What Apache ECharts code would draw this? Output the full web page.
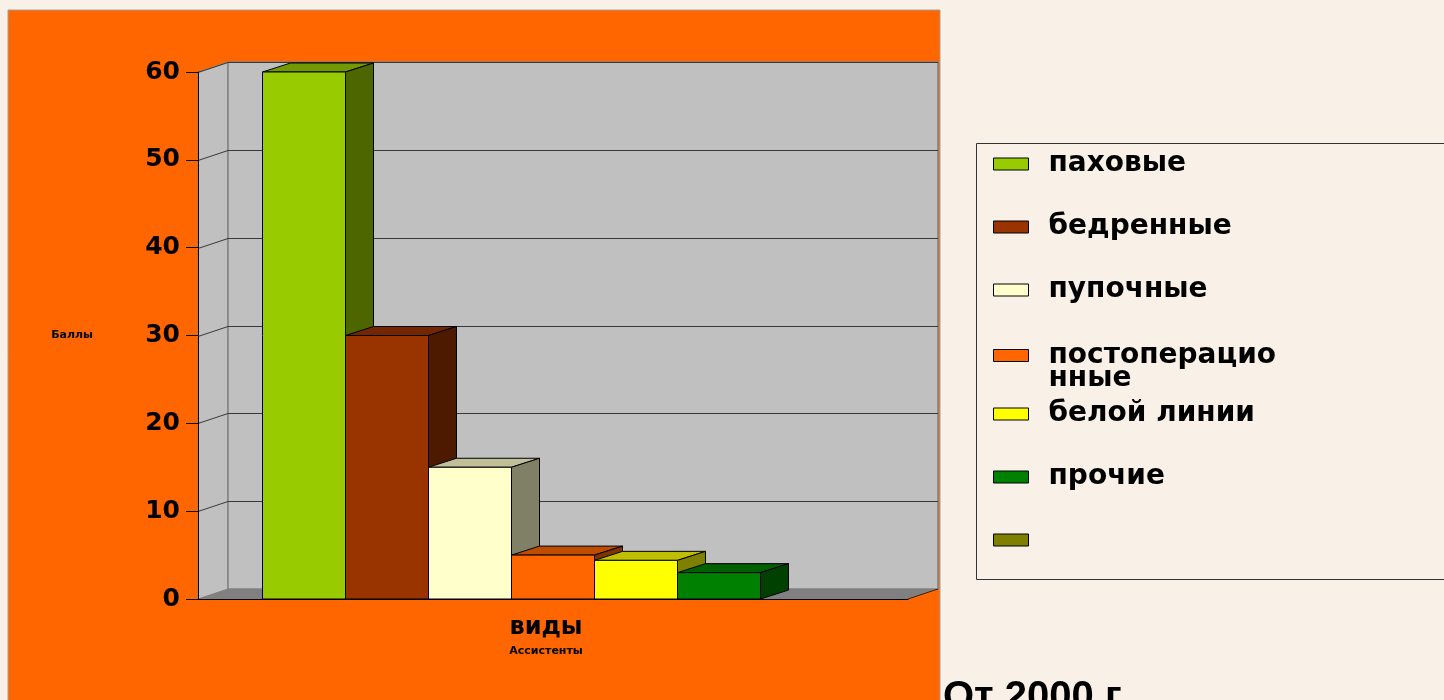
<!DOCTYPE html>
<html>
<head>
<meta charset="utf-8">
<script src="https://cdn.jsdelivr.net/npm/echarts@6/dist/echarts.min.js"></script>
<style>
html,body{margin:0;padding:0;background:#f9f1e7;}
#c{width:1444px;height:700px;}
</style>
</head>
<body>
<div id="c"></div>
<script>
// ---- data ----
const categories = ['виды'];
const seriesNames = ['паховые', 'бедренные', 'пупочные', 'постоперационные', 'белой линии', 'прочие', ' '];
const seriesValues = [60, 30, 15, 5, 4.4, 3, null];
const yTickValues = [0, 10, 20, 30, 40, 50, 60];
const yAxisTitle = 'Баллы';
const xAxisTitle = 'Ассистенты';
const footnote = 'От 2000 г.';

// ---- styles ----
const frontColors = ['#99cc00', '#993300', '#ffffcc', '#ff6600', '#ffff00', '#008000', '#808000'];
function shade(hex, f) {
  const n = parseInt(hex.slice(1), 16);
  const r = Math.round(((n >> 16) & 255) * f), g = Math.round(((n >> 8) & 255) * f), b = Math.round((n & 255) * f);
  return 'rgb(' + r + ',' + g + ',' + b + ')';
}
const topColors = frontColors.map(c => shade(c, 0.75));
const sideColors = frontColors.map(c => shade(c, 0.5));

const FONT = 'DejaVu Sans';
const yMin = yTickValues[0], yMax = yTickValues[yTickValues.length - 1];
const yStep = yTickValues[1] - yTickValues[0];

function renderWalls(params, api) {
  const c0 = api.coord([0, yMin]);
  const c1 = api.coord([0, yMax]);
  const band = api.size([1, 0])[0];
  const L = c0[0] - band / 2, R = c0[0] + band / 2;
  const y0 = c0[1], y1 = c1[1];
  const dx = 30, dy = -10;
  const children = [];
  children.push({type: 'polygon', shape: {points: [[L, y1], [L + dx, y1 + dy], [L + dx, y0 + dy], [L, y0]]},
    style: {fill: '#c0c0c0', stroke: '#808080', lineWidth: 1}});
  children.push({type: 'rect', shape: {x: L + dx, y: y1 + dy, width: R - L, height: y0 - y1},
    style: {fill: '#c0c0c0', stroke: '#808080', lineWidth: 1.5}});
  children.push({type: 'polygon', shape: {points: [[L, y0], [R, y0], [R + dx, y0 + dy], [L + dx, y0 + dy]]},
    style: {fill: '#808080'}});
  yTickValues.forEach(v => {
    if (v === yMin) return;
    const y = Math.round(api.coord([0, v])[1]) + 0.5;
    children.push({type: 'polyline', shape: {points: [[L, y], [L + dx, y + dy], [R + dx, y + dy]]},
      style: {stroke: '#383838', lineWidth: 1, fill: 'none'}});
  });
  children.push({type: 'line', shape: {x1: R, y1: y0, x2: R + dx, y2: y0 + dy}, style: {stroke: '#402000', lineWidth: 1}});
  return {type: 'group', children};
}

function makeBar(idx) {
  return function (params, api) {
    const v = api.value(1);
    if (v == null || isNaN(v)) return null;
    const pTop = api.coord([api.value(0), v]);
    const pBase = api.coord([api.value(0), 0]);
    const band = api.size([1, 0])[0];
    const groupW = band * 581 / 710;
    const bw = groupW / seriesNames.length;
    const x = pTop[0] - groupW / 2 + idx * bw;
    const yT = pTop[1], yB = pBase[1];
    const dx = 28, dy = -9;
    return {type: 'group', children: [
      {type: 'polygon', shape: {points: [[x, yT], [x + dx, yT + dy], [x + bw + dx, yT + dy], [x + bw, yT]]},
        style: {fill: topColors[idx], stroke: '#000', lineWidth: 1}},
      {type: 'polygon', shape: {points: [[x + bw, yT], [x + bw + dx, yT + dy], [x + bw + dx, yB + dy], [x + bw, yB]]},
        style: {fill: sideColors[idx], stroke: '#000', lineWidth: 1}},
      {type: 'rect', shape: {x: x, y: yT, width: bw, height: yB - yT},
        style: {fill: frontColors[idx], stroke: '#000', lineWidth: 1}}
    ]};
  };
}

const series = [{
  type: 'custom', name: '__walls', silent: true, z: 1,
  renderItem: renderWalls, data: [[0, 0]], encode: {x: 0, y: 1}
}];
seriesNames.forEach((n, i) => {
  series.push({
    type: 'custom', name: n, z: 2,
    itemStyle: {color: frontColors[i]},
    renderItem: makeBar(i),
    encode: {x: 0, y: 1},
    data: seriesValues[i] == null ? [] : [[0, seriesValues[i]]]
  });
});

const legendText = {fontFamily: FONT, fontWeight: 'bold', fontSize: 28, color: '#000', lineHeight: 23, padding: [0, 0, 0, 15]};
const legendBase = {
  orient: 'vertical', left: 993, padding: 0, itemGap: 35,
  itemWidth: 35, itemHeight: 12, icon: 'rect',
  itemStyle: {borderColor: '#000', borderWidth: 1},
  textStyle: legendText, selectedMode: false
};

const chart = echarts.init(document.getElementById('c'));
chart.setOption({
  backgroundColor: '#f9f1e7',
  animation: false,
  grid: {left: 198, right: 536, top: 72, bottom: 101},
  xAxis: {
    type: 'category', data: categories, z: 3,
    axisLine: {lineStyle: {color: '#000', width: 1}},
    axisTick: {length: 6, lineStyle: {color: '#000'}},
    axisLabel: {fontFamily: FONT, fontWeight: 'bold', fontSize: 24, color: '#000', margin: 17, padding: [0, 14, 0, 0]},
    name: xAxisTitle, nameLocation: 'middle', nameGap: 47,
    nameTextStyle: {fontFamily: FONT, fontWeight: 'bold', fontSize: 11, color: '#000', padding: [0, 14, 0, 0]}
  },
  yAxis: {
    type: 'value', min: yMin, max: yMax, interval: yStep, z: 3,
    splitLine: {show: false},
    axisLine: {show: true, lineStyle: {color: '#000', width: 1}},
    axisTick: {show: true, length: 12, lineStyle: {color: '#000'}},
    axisLabel: {fontFamily: FONT, fontWeight: 'bold', fontSize: 25, color: '#000', margin: 18},
    name: yAxisTitle, nameLocation: 'middle', nameRotate: 0, nameGap: 105,
    nameTextStyle: {fontFamily: FONT, fontWeight: 'bold', fontSize: 11, color: '#000', align: 'right', verticalAlign: 'middle'}
  },
  legend: [
    Object.assign({}, legendBase, {top: 150, data: seriesNames.slice(0, 3)}),
    Object.assign({}, legendBase, {top: 318.5, data: [seriesNames[3]],
      formatter: n => n === 'постоперационные' ? '\nпостоперацио\nнные' : n}),
    Object.assign({}, legendBase, {top: 400, data: seriesNames.slice(4)})
  ],
  graphic: [
    {type: 'rect', z: -10, silent: true, shape: {x: 8, y: 10, width: 932, height: 700},
      style: {fill: '#ff6600', stroke: '#a0a0a0', lineWidth: 1}},
    {type: 'rect', z: -5, silent: true, shape: {x: 976.5, y: 143.5, width: 500, height: 436},
      style: {fill: 'none', stroke: '#333', lineWidth: 1}},
    {type: 'text', z: 5, silent: true, x: 943, y: 678,
      style: {text: footnote, fontFamily: 'Liberation Sans', fontWeight: 'bold', fontSize: 40, fill: '#000', textVerticalAlign: 'top'}}
  ],
  series: series
});
</script>
</body>
</html>
